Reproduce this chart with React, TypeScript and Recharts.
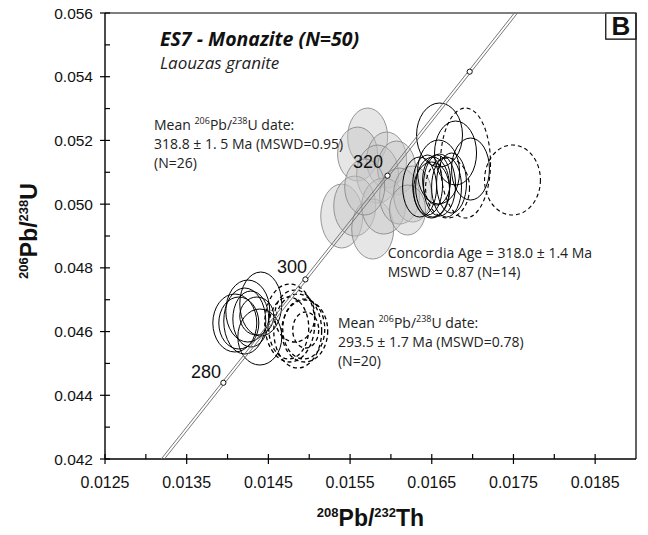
import React from 'react';
import {
  ScatterChart,
  Scatter,
  XAxis,
  YAxis,
  ReferenceLine,
  ReferenceArea,
  ReferenceDot,
} from 'recharts';

const W = 648;
const H = 535;
const MARGIN = { top: 13, right: 12, bottom: 0, left: 0 };
const Y_AXIS_W = 105;
const X_AXIS_H = 76;
const X_DOMAIN: [number, number] = [0.0125, 0.019];
const Y_DOMAIN: [number, number] = [0.042, 0.056];
// pixels per data unit, used only for the ellipse radii
const PX_X = (W - MARGIN.left - MARGIN.right - Y_AXIS_W) / (X_DOMAIN[1] - X_DOMAIN[0]);
const PX_Y = (H - MARGIN.top - MARGIN.bottom - X_AXIS_H) / (Y_DOMAIN[1] - Y_DOMAIN[0]);

const xMajorTicks = [0.0125, 0.0135, 0.0145, 0.0155, 0.0165, 0.0175, 0.0185];
const xMinorTicks = [0.013, 0.014, 0.015, 0.016, 0.017, 0.018];
const yMajorTicks = [0.042, 0.044, 0.046, 0.048, 0.05, 0.052, 0.054, 0.056];
const yMinorTicks = [0.043, 0.045, 0.047, 0.049, 0.051, 0.053, 0.055];

// concordia band (two edges), [208Pb/232Th, 206Pb/238U]
const concordiaLeft = [
  [0.012927, 0.041157],
  [0.013929, 0.044392],
  [0.014933, 0.047637],
  [0.015938, 0.050893],
  [0.016944, 0.054158],
  [0.017951, 0.057434],
];
const concordiaRight = [
  [0.012967, 0.041157],
  [0.013969, 0.044392],
  [0.014973, 0.047637],
  [0.015978, 0.050893],
  [0.016984, 0.054158],
  [0.017991, 0.057434],
];
const ageMarks = [
  [0.013949, 0.044392],
  [0.014953, 0.047637],
  [0.015958, 0.050893],
  [0.016964, 0.054158],
];
const ageLabels = ['280', '300', '320'];
const ageLabelPos = [
  [0.013553, 0.044543],
  [0.014605, 0.047839],
  [0.015536, 0.051135],
];

// ellipses: [x, y, half-width x, half-height y]
const grayEllipses = [
  [0.015715, 0.052107, 0.000245, 0.00091],
  [0.015592, 0.051573, 0.000245, 0.000847],
  [0.015947, 0.051385, 0.000245, 0.000879],
  [0.015837, 0.050945, 0.000257, 0.00091],
  [0.016069, 0.051134, 0.000232, 0.000847],
  [0.015398, 0.049627, 0.000257, 0.001004],
  [0.015557, 0.04994, 0.000257, 0.000942],
  [0.015777, 0.049219, 0.000257, 0.000942],
  [0.015911, 0.04994, 0.000269, 0.000879],
  [0.016106, 0.050254, 0.000245, 0.000879],
  [0.016265, 0.050317, 0.000232, 0.000879],
  [0.016204, 0.049815, 0.00022, 0.000785],
  [0.015679, 0.050537, 0.000245, 0.000879],
];
const upperSolid = [
  [0.016595, 0.05217, 0.000281, 0.001004],
  [0.016791, 0.051605, 0.000257, 0.001004],
  [0.016974, 0.051102, 0.000232, 0.000973],
  [0.016583, 0.051008, 0.000257, 0.001004],
  [0.016351, 0.050537, 0.000208, 0.000942],
  [0.016449, 0.0506, 0.000183, 0.000942],
  [0.01651, 0.050537, 0.000208, 0.000942],
  [0.016595, 0.0506, 0.000196, 0.000973],
  [0.016681, 0.050537, 0.000183, 0.000942],
  [0.016742, 0.050663, 0.000183, 0.000942],
  [0.016559, 0.050757, 0.000171, 0.000785],
  [0.016498, 0.050443, 0.00022, 0.000879],
];
const upperDashed = [
  [0.016913, 0.051291, 0.000306, 0.001726],
  [0.017488, 0.050757, 0.000342, 0.001099],
  [0.016693, 0.050506, 0.000269, 0.000942],
];
const lowerSolid = [
  [0.014407, 0.046865, 0.000257, 0.001004],
  [0.014248, 0.046645, 0.000269, 0.000973],
  [0.014089, 0.046269, 0.000269, 0.00091],
  [0.014138, 0.046269, 0.000245, 0.000816],
  [0.014211, 0.046331, 0.000257, 0.001036],
  [0.014285, 0.046394, 0.00022, 0.000879],
  [0.014395, 0.045829, 0.000269, 0.000879],
  [0.014358, 0.046488, 0.000208, 0.000596],
];
const lowerDashed = [
  [0.014762, 0.046269, 0.000306, 0.001224],
  [0.014859, 0.046018, 0.000293, 0.001161],
  [0.014945, 0.046018, 0.000281, 0.000973],
  [0.014957, 0.046049, 0.000159, 0.000565],
  [0.014749, 0.046112, 0.000245, 0.000973],
  [0.014823, 0.046488, 0.000245, 0.000816],
  [0.014933, 0.04608, 0.000257, 0.000941],
];

const AXIS_FONT = 'Liberation Sans, Arial, sans-serif';
const NOTE_FONT = '"Open Sans", "Noto Sans", sans-serif';

const pts = (rows: number[][]) => rows.map((r) => ({ x: r[0], y: r[1], sx: r[2], sy: r[3] }));

const ellipse = (style: any) => (p: any) => (
  <ellipse
    cx={p.cx}
    cy={p.cy}
    rx={p.payload.sx * PX_X}
    ry={p.payload.sy * PX_Y}
    {...style}
  />
);

const XTick = (p: any) => {
  const v = p.payload.value;
  const major = xMajorTicks.includes(v);
  return (
    <g>
      <line x1={p.x} x2={p.x} y1={p.y - 5} y2={p.y + (major ? 5 : 0)} stroke="#000" strokeWidth={1.2} />
      {major && (
        <text x={p.x} y={p.y + 29} textAnchor="middle" fontSize={16} fontFamily={AXIS_FONT} fill="#111">
          {v.toFixed(4)}
        </text>
      )}
    </g>
  );
};

const YTick = (p: any) => {
  const v = p.payload.value;
  const major = yMajorTicks.some((t) => Math.abs(t - v) < 1e-9);
  return (
    <g>
      <line x1={p.x - (major ? 5 : 0)} x2={p.x + 5} y1={p.y} y2={p.y} stroke="#000" strokeWidth={1.2} />
      {major && (
        <text x={p.x - 12} y={p.y + 5.5} textAnchor="end" fontSize={15.5} fontFamily={AXIS_FONT} fill="#111">
          {v.toFixed(3)}
        </text>
      )}
    </g>
  );
};

const XTitle = (props: any) => {
  const vb = props.viewBox || { x: 105, y: 459, width: 531 };
  return (
    <text x={vb.x + vb.width / 2} y={vb.y + 67} textAnchor="middle" fontFamily={AXIS_FONT} fontWeight={700} fontSize={23} fill="#111">
      <tspan fontSize={13} dy={-9}>208</tspan>
      <tspan dy={9}>Pb/</tspan>
      <tspan fontSize={13} dy={-9}>232</tspan>
      <tspan dy={9}>Th</tspan>
    </text>
  );
};

const YTitle = (props: any) => {
  const vb = props.viewBox || { x: 0, y: 13, height: 446 };
  const x = vb.x + 37;
  const y = vb.y + vb.height / 2 - 5;
  return (
    <text x={x} y={y} transform={`rotate(-90 ${x} ${y})`} textAnchor="middle" fontFamily={AXIS_FONT} fontWeight={700} fontSize={23} fill="#111">
      <tspan fontSize={13} dy={-9}>206</tspan>
      <tspan dy={9}>Pb/</tspan>
      <tspan fontSize={13} dy={-9}>238</tspan>
      <tspan dy={9}>U</tspan>
    </text>
  );
};

const meanNote = (lines: string[]) => (p: any) => (
  <text x={p.cx} y={p.cy} fontFamily={NOTE_FONT} fontSize={14} fill="#222">
    <tspan>Mean </tspan>
    <tspan fontSize={9} dy={-6}>206</tspan>
    <tspan dy={6}>Pb/</tspan>
    <tspan fontSize={9} dy={-6}>238</tspan>
    <tspan dy={6}>U date:</tspan>
    {lines.map((l, i) => (
      <tspan key={i} x={p.cx} dy={19}>
        {l}
      </tspan>
    ))}
  </text>
);

const plainNote = (lines: string[], size: number, extra: any = {}) => (p: any) => (
  <text x={p.cx} y={p.cy} fontFamily={NOTE_FONT} fontSize={size} fill="#222" {...extra}>
    {lines.map((l, i) => (
      <tspan key={i} x={p.cx} dy={i === 0 ? 0 : 19}>
        {l}
      </tspan>
    ))}
  </text>
);

const ageText = (label: string) => (p: any) => (
  <text x={p.cx} y={p.cy} fontFamily={AXIS_FONT} fontSize={18} fill="#111">
    {label}
  </text>
);

export default function App() {
  return (
    <div style={{ position: 'absolute', left: 0, top: 0, background: '#fff' }}>
      <ScatterChart width={W} height={H} margin={MARGIN}>
        <XAxis
          type="number"
          dataKey="x"
          domain={X_DOMAIN}
          allowDataOverflow
          ticks={[...xMajorTicks, ...xMinorTicks].sort((a, b) => a - b)}
          interval={0}
          height={X_AXIS_H}
          tickSize={0}
          tickMargin={0}
          tickLine={false}
          tick={<XTick />}
          axisLine={{ stroke: '#000', strokeWidth: 1.4 }}
          label={<XTitle />}
        />
        <YAxis
          type="number"
          dataKey="y"
          domain={Y_DOMAIN}
          allowDataOverflow
          ticks={[...yMajorTicks, ...yMinorTicks].sort((a, b) => a - b)}
          interval={0}
          width={Y_AXIS_W}
          tickSize={0}
          tickMargin={0}
          tickLine={false}
          tick={<YTick />}
          axisLine={{ stroke: '#000', strokeWidth: 1.4 }}
          label={<YTitle />}
        />
        <ReferenceLine y={0.056} stroke="#555" strokeWidth={1.4} />
        <ReferenceLine x={0.019} stroke="#222" strokeWidth={1.4} />

        <Scatter
          data={pts(grayEllipses)}
          isAnimationActive={false}
          shape={ellipse({ fill: '#c4c4c4', fillOpacity: 0.42, stroke: '#8a8a8a', strokeWidth: 0.9 })}
        />
        <Scatter
          data={pts(upperSolid)}
          isAnimationActive={false}
          shape={ellipse({ fill: 'none', stroke: '#000', strokeWidth: 1 })}
        />
        <Scatter
          data={pts(upperDashed)}
          isAnimationActive={false}
          shape={ellipse({ fill: 'none', stroke: '#000', strokeWidth: 1.1, strokeDasharray: '4 3' })}
        />
        <Scatter
          data={pts(lowerSolid)}
          isAnimationActive={false}
          shape={ellipse({ fill: 'none', stroke: '#000', strokeWidth: 1 })}
        />
        <Scatter
          data={pts(lowerDashed)}
          isAnimationActive={false}
          shape={ellipse({ fill: 'none', stroke: '#000', strokeWidth: 1.3, strokeDasharray: '4 3' })}
        />

        <Scatter
          data={pts(concordiaLeft)}
          isAnimationActive={false}
          line={{ stroke: '#777', strokeWidth: 1 }}
          shape={() => <g />}
        />
        <Scatter
          data={pts(concordiaRight)}
          isAnimationActive={false}
          line={{ stroke: '#777', strokeWidth: 1 }}
          shape={() => <g />}
        />
        <Scatter
          data={pts(ageMarks)}
          isAnimationActive={false}
          shape={(p: any) => <circle cx={p.cx} cy={p.cy} r={2.6} fill="#fff" stroke="#111" strokeWidth={1} />}
        />

        {ageLabels.map((l, i) => (
          <ReferenceDot key={l} x={ageLabelPos[i][0]} y={ageLabelPos[i][1]} r={1} shape={ageText(l)} />
        ))}

        <ReferenceDot
          x={0.013173}
          y={0.054965}
          r={1}
          shape={plainNote(['ES7 - Monazite (N=50)'], 19.5, { fontWeight: 700, fontStyle: 'italic', fill: '#111' })}
        />
        <ReferenceDot
          x={0.013173}
          y={0.054242}
          r={1}
          shape={plainNote(['Laouzas granite'], 17, { fontStyle: 'italic', fill: '#222' })}
        />
        <ReferenceDot
          x={0.013100}
          y={0.052327}
          r={1}
          shape={meanNote(['318.8 ± 1. 5 Ma (MSWD=0.95)', '(N=26)'])}
        />
        <ReferenceDot
          x={0.01596}
          y={0.048309}
          r={1}
          shape={plainNote(['Concordia Age = 318.0 ± 1.4 Ma', 'MSWD = 0.87 (N=14)'], 14)}
        />
        <ReferenceDot
          x={0.015352}
          y={0.046112}
          r={1}
          shape={meanNote(['293.5 ± 1.7 Ma (MSWD=0.78)', '(N=20)'])}
        />

        <ReferenceArea
          x1={0.01863}
          x2={0.019}
          y1={0.05518}
          y2={0.056}
          fill="#fff"
          fillOpacity={1}
          stroke="#000"
          strokeWidth={1.2}
          label={{ value: 'B', position: 'center', fontSize: 26, fontWeight: 700, fill: '#111', fontFamily: AXIS_FONT }}
        />
      </ScatterChart>
    </div>
  );
}
